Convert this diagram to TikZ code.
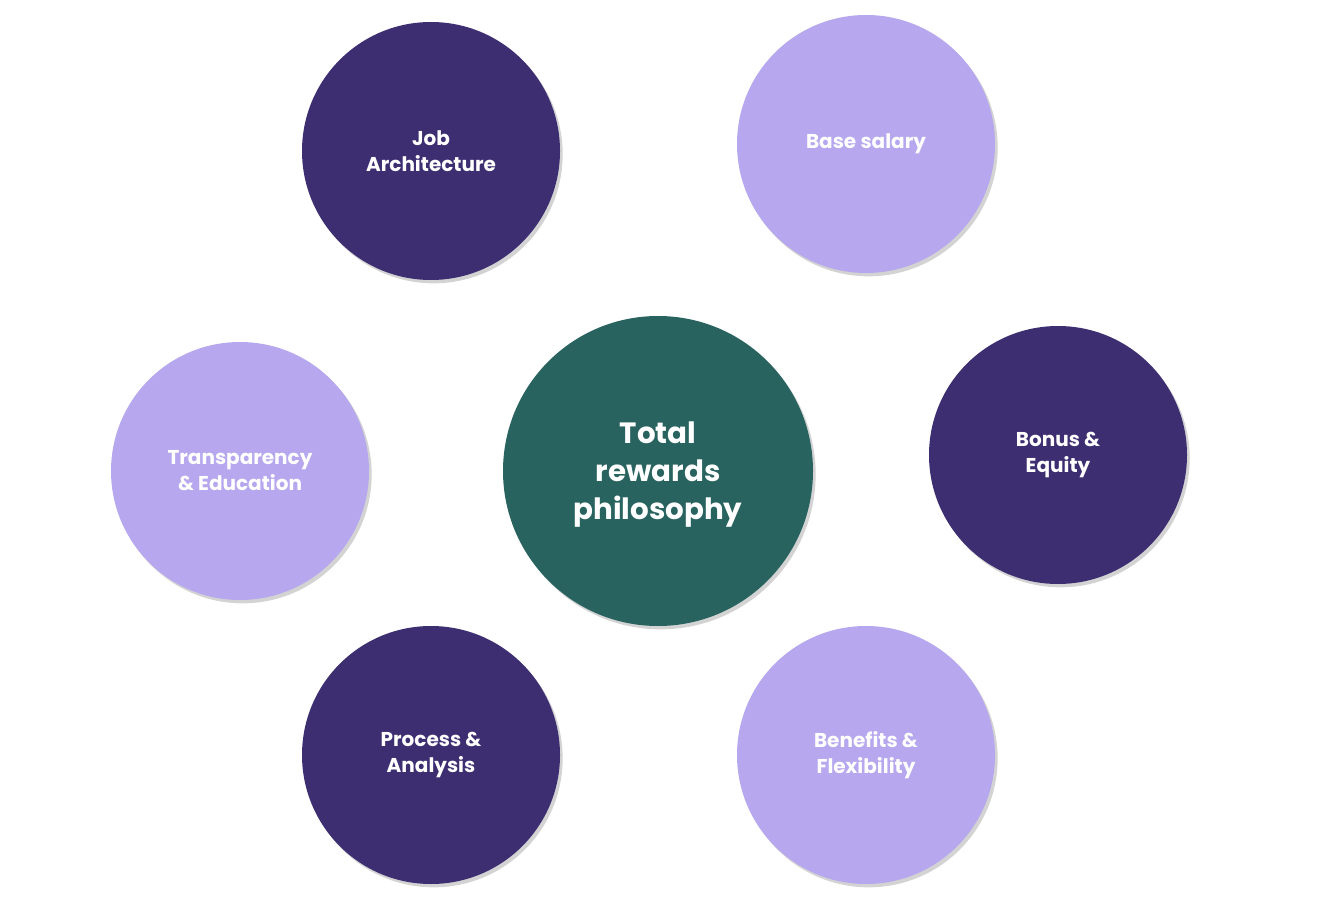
\documentclass[tikz,border=0pt]{standalone}
\usepackage{fontspec}
\setmainfont{Poppins}
\usepackage{tikz}
\usetikzlibrary{shadows}
\definecolor{deeppurple}{HTML}{3D2E72}
\definecolor{lilac}{HTML}{B6A7EE}
\definecolor{teal}{HTML}{28635F}
\tikzset{bubble/.style={circle,minimum size=193.5pt,inner sep=0pt,align=center,
    text=white,font=\fontsize{15}{19.5}\selectfont\bfseries,
    drop shadow={shadow xshift=2pt,shadow yshift=-2.5pt,opacity=0.35}},
    darkbubble/.style={bubble,fill=deeppurple},
    lightbubble/.style={bubble,fill=lilac}}

\begin{document}
\begin{tikzpicture}[x=0.75pt,y=0.75pt,yscale=-1,xscale=1]
\useasboundingbox (0,0) rectangle (1328,898);

%Shape: Circle [id:hub]
\node (hub) at (658,471) [bubble,fill=teal,minimum size=232.5pt,text depth=0pt,
    font=\fontsize{22}{28.5}\selectfont\bfseries] {Total\\rewards\\philosophy};

%Shape: Circle [id:job]
\node (job) at (431,151) [darkbubble] {Job\\Architecture};
%Shape: Circle [id:base]
\node (base) at (866,144) [lightbubble] {Base salary};
%Shape: Circle [id:transp]
\node (transp) at (240,471) [lightbubble] {Transparency\\\& Education};
%Shape: Circle [id:bonus]
\node (bonus) at (1058,455) [darkbubble] {Bonus \&\\Equity};
%Shape: Circle [id:process]
\node (process) at (431,755) [darkbubble] {Process \&\\Analysis};
%Shape: Circle [id:benefits]
\node (benefits) at (866,755) [lightbubble] {Benefits \&\\Flexibility};

\end{tikzpicture}
\end{document}
